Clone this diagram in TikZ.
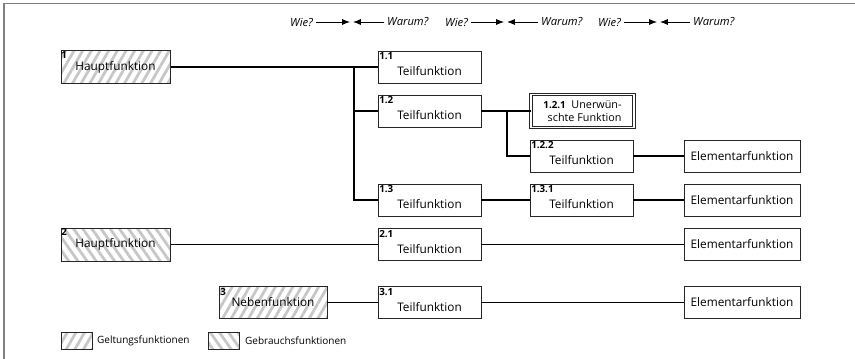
\documentclass[tikz,border=0pt]{standalone}
\usepackage{fontspec}
\setmainfont{Open Sans}
\usetikzlibrary{patterns.meta,arrows.meta}

\begin{document}
\begin{tikzpicture}[x=1pt,y=-1pt,
  frameline/.style={draw=black!50, line width=1.1pt},
  fbox/.style={draw=black!85, line width=0.9pt, inner sep=0pt, minimum height=32pt,
    font=\fontsize{11.8}{13}\selectfont},
  teil/.style={fbox, fill=white, minimum width=103pt, text height=17pt, text depth=0pt},
  elem/.style={fbox, fill=white, minimum width=116pt},
  haupt/.style={fbox, minimum width=109pt, minimum height=33pt},
  gelt/.style={pattern={Lines[angle=60,distance=7.5pt,line width=2.8pt]}, pattern color=black!22},
  gebr/.style={pattern={Lines[angle=-55,distance=7.5pt,line width=2.8pt]}, pattern color=black!22},
  num/.style={anchor=north west, inner xsep=1.5pt, inner ysep=2pt, font=\fontsize{9.8}{10}\selectfont\bfseries},
  hdr/.style={inner sep=3pt, anchor=west, font=\fontsize{11.2}{12}\selectfont\itshape},
  harrow/.style={draw=black, line width=1pt, -{Latex[length=8pt,width=6pt]}, shorten >=1.3pt},
  trunk/.style={draw=black, line width=1.7pt},
  conn/.style={draw=black, line width=1.1pt},
  legbox/.style={draw=black!85, line width=0.9pt, minimum width=31pt, minimum height=17pt, inner sep=0pt},
  legtext/.style={anchor=west, inner sep=0pt, font=\fontsize{10}{11}\selectfont},
]
\useasboundingbox (0,0) rectangle (855,359);

% frame: top and left edges
\draw[frameline] (855,3.5) -- (4,3.5) -- (4,359);

% header: Wie? / Warum?
\node[hdr] (wie1) at (287,22) {Wie?};
\coordinate (m1) at (351.5,22);
\node[hdr] (war1) at (384,22) {Warum?};
\node[hdr] (wie2) at (442,22) {Wie?};
\coordinate (m2) at (505.5,22);
\node[hdr] (war2) at (538,22) {Warum?};
\node[hdr] (wie3) at (595,22) {Wie?};
\coordinate (m3) at (658.5,22);
\node[hdr] (war3) at (690,22) {Warum?};
\foreach \i in {1,2,3}{
  \draw[harrow] (wie\i.east) -- (m\i);
  \draw[harrow] (war\i.west) -- (m\i);
}

% main functions
\node[haupt, gelt, label={[num]north west:1}] (h1) at (115.5,67) {Hauptfunktion};
\node[haupt, gebr, label={[num]north west:2}] (h2) at (115.5,244.5) {Hauptfunktion};
\node[haupt, gelt, minimum width=108pt, minimum height=32pt, label={[num]north west:3}] (n3) at (273,302.5) {Nebenfunktion};

% sub functions
\node[teil, label={[num]north west:1.1}] (t11) at (429.5,67) {Teilfunktion};
\node[teil, label={[num]north west:1.2}] (t12) at (429.5,111) {Teilfunktion};
\node[teil, label={[num]north west:1.3}] (t13) at (429.5,200) {Teilfunktion};
\node[teil, label={[num]north west:2.1}] (t21) at (429.5,244.5) {Teilfunktion};
\node[teil, label={[num]north west:3.1}] (t31) at (429.5,302.5) {Teilfunktion};

\node[fbox, fill=white, minimum width=103pt, minimum height=33pt, double, double distance=1.5pt,
  line width=0.8pt, align=right, font=\fontsize{10.8}{13}\selectfont] (u121) at (582.5,111)
  {{\fontsize{9.8}{10}\selectfont\bfseries 1.2.1}\ \ Unerwün-\\schte Funktion};
\node[teil, label={[num]north west:1.2.2}] (t122) at (581.5,156) {Teilfunktion};
\node[teil, label={[num]north west:1.3.1}] (t131) at (581.5,200) {Teilfunktion};

% elementary functions
\node[elem] (e1) at (742,156) {Elementarfunktion};
\node[elem] (e2) at (742,200) {Elementarfunktion};
\node[elem] (e3) at (742,244.5) {Elementarfunktion};
\node[elem] (e4) at (742,302.5) {Elementarfunktion};

% junction columns
\coordinate (j1) at (354,0);
\coordinate (j2) at (507,0);

% tree connectors
\draw[trunk] (h1.east) -| (j1 |- t13.west) -- (t13.west);
\draw[conn] (j1 |- t11.west) -- (t11.west);
\draw[trunk] (j1 |- t12.west) -- (t12.west);
\draw[trunk] (t12.east) -- (u121.west);
\draw[trunk] (j2 |- t12.east) |- (t122.west);
\draw[conn] (t13) -- (t131);
\draw[conn] (t122) -- (e1);
\draw[conn] (t131) -- (e2);
\draw[conn] (h2) -- (t21);
\draw[conn] (t21) -- (e3);
\draw[trunk] (n3) -- (t31);
\draw[conn] (t31) -- (e4);

% legend
\node[legbox, gelt] (lg1) at (76.5,340.5) {};
\node[legtext] (lt1) at (97,340.5) {Geltungsfunktionen};
\node[legbox, gebr] (lg2) at (223.5,340.5) {};
\node[legtext] (lt2) at (245,340.5) {Gebrauchsfunktionen};
\end{tikzpicture}
\end{document}
